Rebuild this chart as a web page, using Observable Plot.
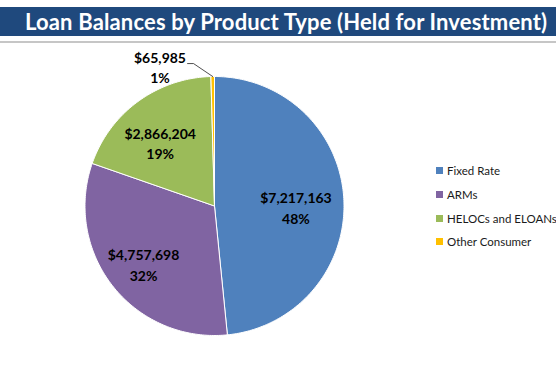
<!DOCTYPE html>
<html>
<head>
<meta charset="utf-8">
<script src="https://cdn.jsdelivr.net/npm/d3@7"></script>
<script src="https://cdn.jsdelivr.net/npm/@observablehq/plot@0.6"></script>
<style>
  html, body { margin: 0; padding: 0; background: #fff; overflow: hidden; }
  body { position: relative; width: 556px; height: 366px; font-family: Lato, "Open Sans", sans-serif; }
  #banner {
    position: absolute; left: 0; top: 7px; width: 556px; height: 29px;
    background: #1f497d; color: #fff; font-weight: bold; font-size: 22px; letter-spacing: 0.15px;
    line-height: 30px; padding-left: 25px; box-sizing: border-box; white-space: nowrap;
  }
  #rule { position: absolute; left: 0; top: 41px; width: 556px; height: 2px; background: #c6c6c6; }
  #chart { position: absolute; left: 0; top: 44px; }
  #legend { position: absolute; left: 436px; top: 159px; width: 160px; }
  #legend .lg-swatches { font-family: Lato, sans-serif !important; font-size: 11.5px !important; color: #1a1a1a; margin: 0 !important; }
  #legend .lg-swatch { height: 23.7px; padding: 0 !important; }
  #legend .lg-swatch > svg { margin-right: 4px !important; }
  #legend .lg-swatch-label { overflow: visible !important; text-overflow: clip !important; }
</style>
</head>
<body>
<div id="banner">Loan Balances by Product Type (Held for Investment)</div>
<div id="rule"></div>
<div id="chart"></div>
<div id="legend"></div>
<script>
// Loan balances by product type
const categories = ["Fixed Rate", "ARMs", "HELOCs and ELOANs", "Other Consumer"];
const balances = [7217163, 4757698, 2866204, 65985];
const shareLabels = ["48%", "32%", "19%", "1%"];
const sliceColors = ["#4f81bd", "#8064a2", "#9bbb59", "#ffc000"];

const slices = categories.map((category, i) => ({category, balance: balances[i], share: shareLabels[i]}));
const arcs = d3.pie().sort(null).value(d => d.balance)(slices);

// Outline of each wedge on the unit circle, clockwise from 12 o'clock
const wedgePoints = arcs.flatMap(a => {
  const c = a.data.category;
  const n = Math.max(2, Math.ceil((a.endAngle - a.startAngle) / (2 * Math.PI) * 360));
  const pts = [{category: c, x: 0, y: 0}];
  for (let k = 0; k <= n; k++) {
    const t = a.startAngle + (a.endAngle - a.startAngle) * k / n;
    pts.push({category: c, x: Math.sin(t), y: Math.cos(t)});
  }
  pts.push({category: c, x: 0, y: 0});
  return pts;
});

const money = d3.format("$,");
const labelText = d => `${money(d.balance)}\n${d.share}`;

// Large wedges: label inside along the bisector, nudged slightly downward
const insideRadius = 0.66;
const inside = arcs.filter(a => a.endAngle - a.startAngle > 0.2).map(a => {
  const m = (a.startAngle + a.endAngle) / 2;
  return {...a.data, x: insideRadius * Math.sin(m) - 0.03, y: insideRadius * Math.cos(m) - 0.04};
});

// Thin wedges: callout label outside with an elbow leader
const callouts = arcs.filter(a => a.endAngle - a.startAngle <= 0.2).map(a => {
  const m = (a.startAngle + a.endAngle) / 2;
  const px = Math.sin(m), py = Math.cos(m);
  const ex = px - 0.148, ey = py + 0.1, hx = ex - 0.046;
  return {...a.data, px, py, ex, ey, hx, tx: hx - 0.213, ty: ey - 0.025};
});
const leaders = callouts.flatMap(c => [
  {category: c.category, x: c.px, y: c.py},
  {category: c.category, x: c.ex, y: c.ey},
  {category: c.category, x: c.hx, y: c.ey}
]);

const chart = Plot.plot({
  width: 556,
  height: 322,
  margin: 0,
  x: {domain: [-1, 1], range: [84.5, 343.5], axis: null},
  y: {domain: [-1, 1], range: [291, 32], axis: null},
  color: {domain: categories, range: sliceColors},
  style: {background: "transparent", fontFamily: "Lato, sans-serif", overflow: "visible"},
  marks: [
    Plot.line(wedgePoints, {x: "x", y: "y", z: "category", fill: "category", stroke: "white", strokeWidth: 1, curve: "linear"}),
    Plot.line(leaders, {x: "x", y: "y", z: "category", stroke: "#222", strokeWidth: 0.8, curve: "linear"}),
    Plot.text(inside, {x: "x", y: "y", text: labelText, fontSize: 14, fontWeight: "bold", fill: "#000", lineHeight: 1.45}),
    Plot.text(callouts, {x: "tx", y: "ty", text: labelText, fontSize: 14, fontWeight: "bold", fill: "#000", lineHeight: 1.45})
  ]
});
document.getElementById("chart").append(chart);

const legend = Plot.legend({
  color: {domain: categories, range: sliceColors},
  legend: "swatches",
  columns: 1,
  swatchSize: 7,
  className: "lg"
});
document.getElementById("legend").append(legend);
</script>
</body>
</html>
